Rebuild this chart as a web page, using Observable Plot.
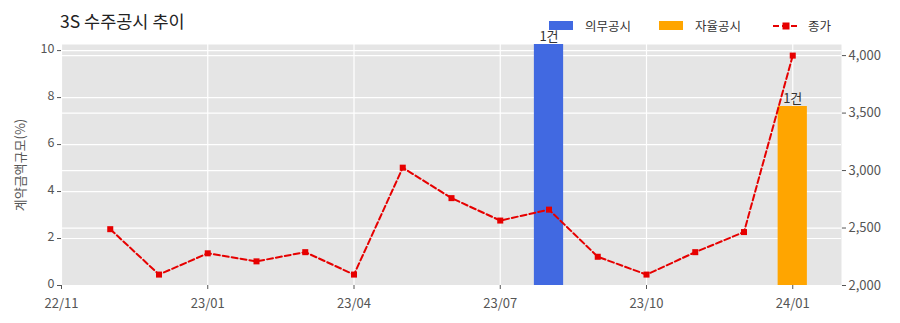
<!DOCTYPE html>
<html><head><meta charset="utf-8">
<script src="https://cdn.jsdelivr.net/npm/d3@7"></script>
<script src="https://cdn.jsdelivr.net/npm/@observablehq/plot@0.6"></script>
<style>
body{margin:0;background:#fff;font-family:'Noto Sans CJK KR',sans-serif;}
#wrap{position:relative;width:900px;height:323px;overflow:hidden;}
#wrap svg{position:absolute;left:0;top:0;}
.title{position:absolute;left:60px;top:8px;font-size:17.5px;color:#222;}
.ylab{position:absolute;left:19px;top:165px;transform:translate(-50%,-50%) rotate(-90deg);font-size:13px;color:#555;white-space:nowrap;}
.leg{position:absolute;top:16px;font-size:12.5px;color:#333;display:flex;align-items:center;}
.sw{display:inline-block;width:24px;height:9px;margin-right:12px;}
</style></head><body>
<div id="wrap"></div>
<script>
// data
const periods = [0,1,2,3,4,5,6,7,8,9,10,11,12,13,14];
const closePrice = [2490,2095,2280,2210,2290,2095,3025,2760,2565,2660,2250,2095,2290,2465,4000];
const barPos = [9,14];
const barValue = [10.26,7.62];
const barType = ["의무공시","자율공시"];
const barLabel = ["1건","1건"];
const xTickPos = [-1,2,5,8,11,14];
const xTickLabels = ["22/11","23/01","23/04","23/07","23/10","24/01"];
const leftTicks = [0,2,4,6,8,10];
const rightTicks = [2000,2500,3000,3500,4000];

const colors = {"의무공시":"#4169e1","자율공시":"#ffa500"};
const lineColor = "#e60000";
// map right axis (price) onto left scale units
const toLeft = v => (v-2000)*0.115/23.5;

const bars = barPos.map((p,i)=>({x1:p-0.3,x2:p+0.3,x:p,y:barValue[i],type:barType[i],label:barLabel[i]}));
const line = periods.map((p,i)=>({x:p,y:toLeft(closePrice[i])}));

const chart = Plot.plot({
  width:900,height:323,
  marginLeft:61,marginRight:59,marginTop:44,marginBottom:38,
  style:{fontFamily:"'Noto Sans CJK KR',sans-serif",fontSize:"13px",color:"#555",background:"transparent"},
  x:{domain:[-1,15]},
  y:{domain:[0,10.26]},
  marks:[
    Plot.frame({fill:"#e5e5e5",stroke:null}),
    Plot.gridY(leftTicks,{stroke:"#fff",strokeOpacity:1,strokeWidth:1.2}),
    Plot.gridY(rightTicks.map(toLeft),{stroke:"#fff",strokeOpacity:1,strokeWidth:1.2}),
    Plot.gridX(xTickPos,{stroke:"#fff",strokeOpacity:1,strokeWidth:1.2}),
    Plot.rectY(bars,{x1:"x1",x2:"x2",y1:0,y2:"y",fill:d=>colors[d.type],clip:true}),
    Plot.line(line,{x:"x",y:"y",stroke:lineColor,strokeWidth:2,strokeDasharray:"6,3"}),
    Plot.dot(line,{x:"x",y:"y",symbol:"square",r:3.4,fill:lineColor,stroke:null}),
    Plot.text(bars,{x:"x",y:"y",text:"label",dy:-8,fill:"#333",fontSize:13}),
    Plot.axisY(leftTicks,{anchor:"left",tickSize:4,label:null,text:null}),
    Plot.axisY(leftTicks,{anchor:"left",tickSize:0,tickPadding:7,label:null,fontSize:12.5,dy:-2,tickFormat:d=>String(d)}),
    Plot.axisY(rightTicks.map(toLeft),{anchor:"right",tickSize:4,tickPadding:3,label:null,tickFormat:(d,i)=>d3.format(",")(rightTicks[i])}),
    Plot.axisX(xTickPos,{anchor:"bottom",tickSize:4,tickPadding:9,label:null,tickFormat:(d,i)=>xTickLabels[i]})
  ]
});
const wrap = document.getElementById("wrap");
wrap.appendChild(chart);
const add = (html)=>{const d=document.createElement("div");d.innerHTML=html;wrap.appendChild(d.firstElementChild);};
add(`<div class="title">3S 수주공시 추이</div>`);
add(`<div class="ylab">계약금액규모(%)</div>`);
add(`<div class="leg" style="left:549px"><span class="sw" style="background:#4169e1"></span>의무공시</div>`);
add(`<div class="leg" style="left:659px"><span class="sw" style="background:#ffa500"></span>자율공시</div>`);
add(`<div class="leg" style="left:773px"><svg width="26" height="10" style="position:static;margin-right:9px"><line x1="0" y1="5" x2="26" y2="5" stroke="${lineColor}" stroke-width="2" stroke-dasharray="6,3"/><rect x="9.5" y="1.5" width="7" height="7" fill="${lineColor}"/></svg>종가</div>`);
</script>
</body></html>
